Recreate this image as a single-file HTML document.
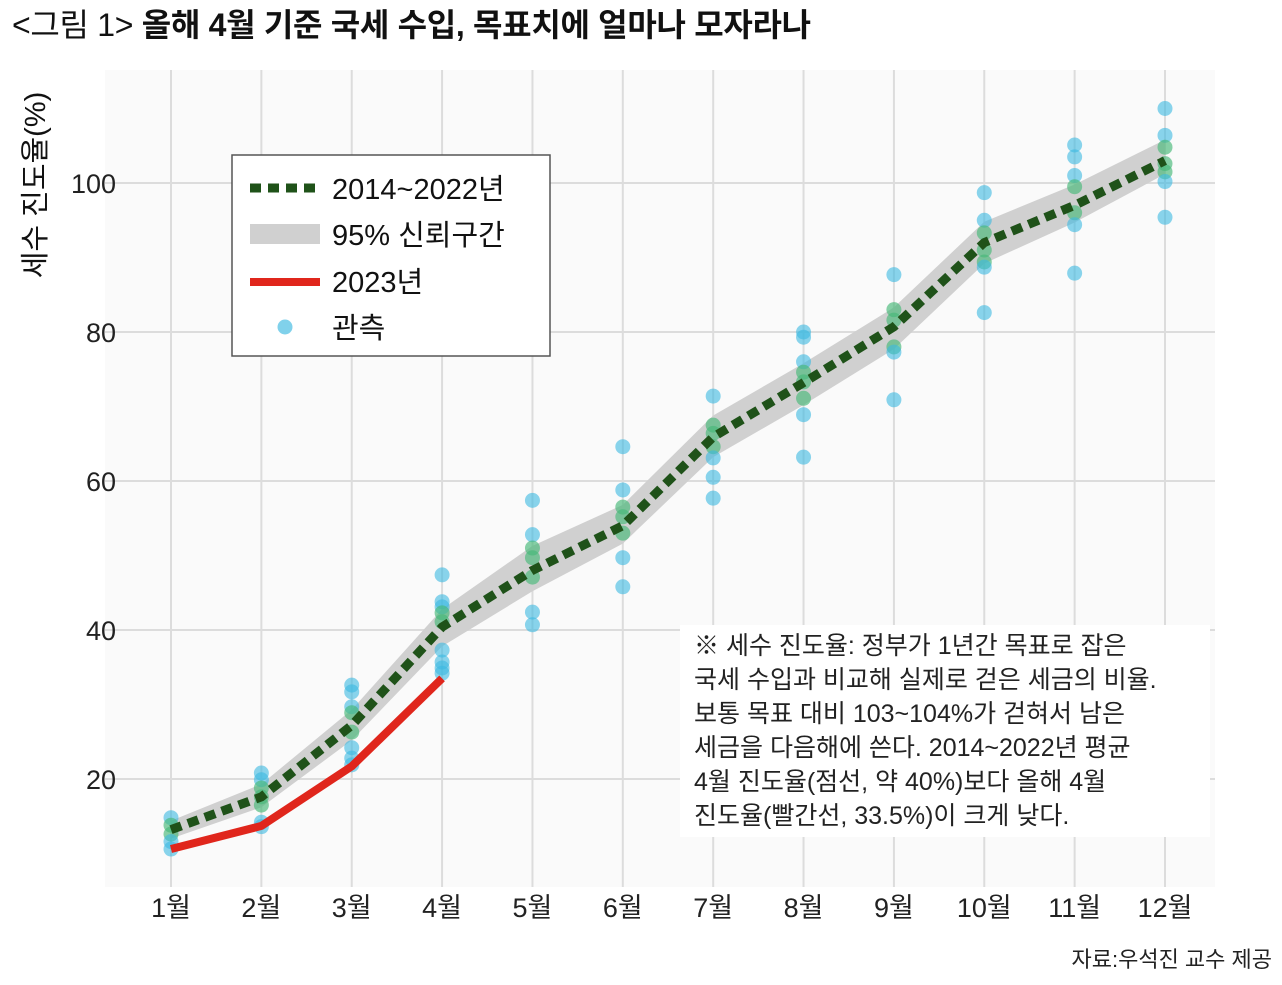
<!DOCTYPE html>
<html><head><meta charset="utf-8">
<style>
body{margin:0;background:#fff;font-family:"Liberation Sans","Noto Sans CJK KR",sans-serif;}
#wrap{position:relative;width:1282px;height:985px;overflow:hidden;}
.title{position:absolute;left:12px;top:0px;font-size:32px;color:#111;white-space:nowrap;letter-spacing:-0.3px;}
.title b{font-weight:bold;}
.note{position:absolute;left:680px;top:625px;width:530px;height:212px;background:#fff;font-size:25px;line-height:34px;color:#222;padding:4px 0 0 14px;box-sizing:border-box;white-space:nowrap;}
.src{position:absolute;right:10px;top:942px;font-size:22px;color:#222;}
</style></head><body>
<div id="wrap">
<div class="title">&lt;그림 1&gt; <b>올해 4월 기준 국세 수입, 목표치에 얼마나 모자라나</b></div>
<svg id="chart" width="1282" height="985" style="position:absolute;left:0;top:0"></svg>
<div class="note">※ 세수 진도율: 정부가 1년간 목표로 잡은<br>국세 수입과 비교해 실제로 걷은 세금의 비율.<br>보통 목표 대비 103~104%가 걷혀서 남은<br>세금을 다음해에 쓴다. 2014~2022년 평균<br>4월 진도율(점선, 약 40%)보다 올해 4월<br>진도율(빨간선, 33.5%)이 크게 낮다.</div>
<div class="src">자료:우석진 교수 제공</div>
</div>
<script>
const months=["1월","2월","3월","4월","5월","6월","7월","8월","9월","10월","11월","12월"];
const meanVals=[13.2,17.6,27.2,40.4,48,54,65.9,73.2,80.7,92,97,103];
const lowVals=[12,16.2,25.2,37.8,45.2,51.6,63.2,70.2,77.7,89.2,94.7,101.2];
const highVals=[14.4,19.3,29.3,42.8,51.3,56.8,68.8,75.8,83.3,94.8,99.8,105.8];
const red2023=[10.6,13.7,21.7,33.5];
const obs=[
[14.8,13.8,12.6,11.6,10.6],
[20.8,19.9,18.8,17.6,16.5,14.2,13.6],
[32.6,31.7,29.7,28.9,26.3,24.2,22.8,21.9],
[47.4,43.8,43.1,42.3,41.1,37.3,35.7,34.9,34.2],
[57.4,52.8,51,49.7,47.1,42.4,40.7],
[64.6,58.8,56.5,55.2,53,49.7,45.8],
[71.4,67.5,66.4,64.6,63.1,60.5,57.7],
[80,79.3,76,74.6,73.3,71.1,68.9,63.2],
[87.7,83,81.6,78,77.3,70.9],
[98.7,95,93.3,91,89.4,88.7,82.6],
[105.1,103.5,101,99.5,96,94.4,87.9],
[110,106.4,104.8,102.6,101.5,100.2,95.4]
];
const yTicks=[20,40,60,80,100];
const NS="http://www.w3.org/2000/svg";
const svg=document.getElementById('chart');
const X0=105,X1=1215,Y0=70,Y1=887;
const xs=i=>171+i*(1165-171)/11;
const ys=v=>928-7.45*v;
function mk(t,a,p){const e=document.createElementNS(NS,t);for(const k in a)e.setAttribute(k,a[k]);(p||svg).appendChild(e);return e;}
const bg=mk('rect',{x:X0,y:Y0,width:X1-X0,height:Y1-Y0,fill:'#fafafa'});


yTicks.forEach(v=>{
 const l=mk('line',{x1:X0,x2:X1,y1:ys(v),y2:ys(v),stroke:'#dcdcdc','stroke-width':2});
 
 
 const t=mk('text',{x:116,y:ys(v)+10,'text-anchor':'end','font-size':27,fill:'#222'});t.textContent=v;
 
 
});
months.forEach((m,i)=>{
 const l=mk('line',{x1:xs(i),x2:xs(i),y1:Y0,y2:Y1,stroke:'#dcdcdc','stroke-width':2});
 
 
 const t=mk('text',{x:xs(i),y:917,'text-anchor':'middle','font-size':27,fill:'#222'});t.textContent=m;
 
 
});
const yl=mk('text',{x:0,y:0,transform:'translate(45,185) rotate(-90)','text-anchor':'middle','font-size':29,fill:'#111'});
yl.textContent='세수 진도율(%)';


let d='M'+highVals.map((v,i)=>xs(i)+','+ys(v)).join('L')+'L'+lowVals.map((v,i)=>xs(i)+','+ys(v)).reverse().join('L')+'Z';
const band=mk('path',{d:d,fill:'#d0d0d0'});


obs.forEach((arr,i)=>arr.forEach(v=>{
 const inb=v>=lowVals[i]&&v<=highVals[i];
 const c=mk('circle',{cx:xs(i),cy:ys(v),r:7.5,fill:inb?'rgba(70,185,120,0.65)':'rgba(60,185,225,0.6)'});
 
 
}));
const rl=mk('polyline',{points:red2023.map((v,i)=>xs(i)+','+ys(v)).join(' '),fill:'none',stroke:'#e0261c','stroke-width':8,'stroke-linejoin':'round'});


const ml=mk('polyline',{points:meanVals.map((v,i)=>xs(i)+','+ys(v)).join(' '),fill:'none',stroke:'#1f5219','stroke-width':9,'stroke-dasharray':'11 7'});


const lg=mk('g',{});


mk('rect',{x:232,y:155,width:318,height:201,fill:'#fff',stroke:'#555','stroke-width':1.5},lg);
mk('line',{x1:250,x2:320,y1:188,y2:188,stroke:'#1f5219','stroke-width':9,'stroke-dasharray':'11 7'},lg);
mk('rect',{x:250,y:224,width:70,height:20,fill:'#d0d0d0'},lg);
mk('line',{x1:250,x2:320,y1:282,y2:282,stroke:'#e0261c','stroke-width':8},lg);
mk('circle',{cx:285,cy:327,r:7.5,fill:'rgba(60,185,225,0.65)'},lg);
[['2014~2022년',199,'legend-entry-mean'],['95% 신뢰구간',245,'legend-entry-band'],['2023년',292,'legend-entry-2023'],['관측',338,'legend-entry-observed']].forEach(a=>{
 const t=mk('text',{x:332,y:a[1],'font-size':29,fill:'#111'},lg);t.textContent=a[0];
 
 
});
</script>
</body></html>
